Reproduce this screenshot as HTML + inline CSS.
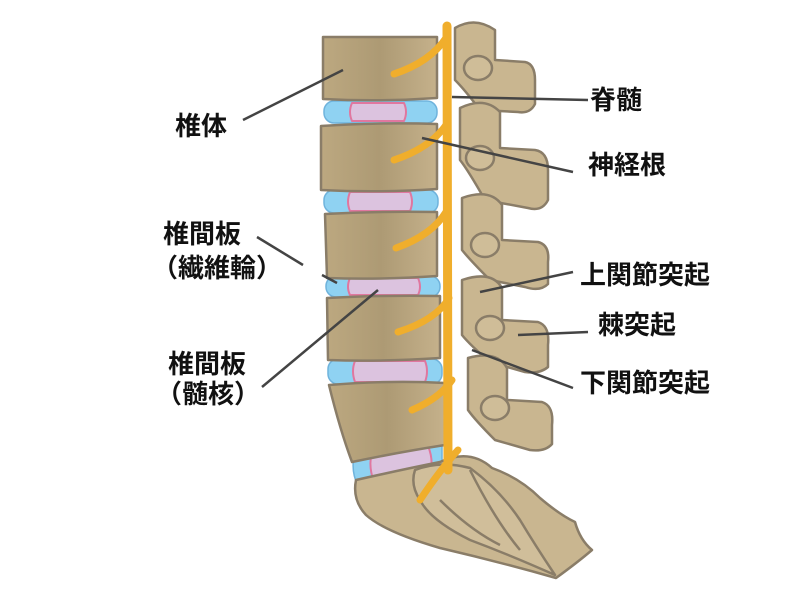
<!DOCTYPE html>
<html><head><meta charset="utf-8"><style>
html,body{margin:0;padding:0;background:#fff;}
svg{display:block;}
text{font-family:"Liberation Sans","Noto Sans CJK JP",sans-serif;font-weight:bold;font-size:26px;fill:#111;}
</style></head><body>
<svg width="800" height="600" viewBox="0 0 800 600" xmlns="http://www.w3.org/2000/svg">
<defs>
<linearGradient id="bone" x1="0" y1="0" x2="1" y2="0">
<stop offset="0" stop-color="#bca880"/><stop offset="0.5" stop-color="#ad9a74"/><stop offset="1" stop-color="#c5b18b"/>
</linearGradient>
</defs>
<g stroke="#8a7d68" stroke-width="2.5" stroke-linejoin="round">
<g fill="#c9b690">
<path d="M455 28 Q475 16 495 30 L495 60 L525 62 Q535 64 535 80 L535 104 Q530 114 518 112 L480 110 Q465 90 455 80 Z"/>
<path d="M460 108 Q485 96 500 112 L500 148 L535 150 Q548 152 548 170 L548 200 Q542 212 528 208 L485 200 Q468 170 460 160 Z"/>
<path d="M462 198 Q490 188 502 205 L502 240 L538 242 Q550 245 548 262 L548 284 Q540 292 525 287 L490 280 Q470 260 462 250 Z"/>
<path d="M462 280 Q492 270 502 288 L502 320 L538 322 Q550 326 548 345 L548 367 Q540 374 525 372 L490 362 Q470 345 462 335 Z"/>
<path d="M468 358 Q497 350 507 368 L507 400 L542 402 Q554 406 552 425 L552 444 Q545 452 530 450 L495 440 Q475 420 468 410 Z"/>
</g>
<g fill="#cfbd98">
<ellipse cx="478" cy="68" rx="14" ry="12"/>
<ellipse cx="480" cy="158" rx="14" ry="12"/>
<ellipse cx="485" cy="245" rx="14" ry="12"/>
<ellipse cx="490" cy="328" rx="14" ry="12"/>
<ellipse cx="495" cy="408" rx="14" ry="12"/>
</g>
<g fill="#8fd2f2" stroke="#6fb3dc" stroke-width="1.5">
<rect x="324" y="101" width="113" height="22" rx="10"/>
<rect x="324" y="190" width="114" height="23" rx="10"/>
<rect x="326" y="276" width="114" height="21" rx="10"/>
<rect x="328" y="359" width="114" height="25" rx="10"/>
<path d="M355 452 L442 440 L442 480 L358 486 Q350 470 355 452 Z"/>
</g>
<g fill="#dcc3df" stroke="#e0779f" stroke-width="2">
<path d="M352 103 Q348 112 352 121 L404 121 Q408 112 404 103 Z"/>
<path d="M350 192 Q346 202 350 211 L410 211 Q414 202 410 192 Z"/>
<path d="M350 278 Q346 287 350 295 L418 295 Q422 287 418 278 Z"/>
<path d="M355 361 Q351 371 355 382 L425 382 Q429 371 425 361 Z"/>
<path d="M372 452 Q368 466 374 482 L430 476 Q434 460 428 446 Z"/>
</g>
<g fill="url(#bone)">
<path d="M323 37 L437 37 L437 98 Q380 102 323 99 Z"/>
<path d="M321 126 Q380 122 437 124 L437 189 Q380 193 321 190 Z"/>
<path d="M325 214 Q380 211 437 212 L437 276 Q380 280 327 278 Z"/>
<path d="M327 298 Q380 295 440 296 L440 358 Q380 362 328 360 Z"/>
<path d="M329 385 Q390 380 445 383 L445 445 Q400 452 352 462 Q340 430 329 385 Z"/>
</g>
<path fill="#c9b690" d="M356 480 Q400 470 440 462 Q470 448 492 468 Q520 478 540 498 Q560 515 575 522 Q580 540 592 550 Q578 562 556 578 Q500 562 440 548 Q385 532 366 515 Q352 500 356 480 Z"/>
<path fill="#d0be9a" d="M415 470 Q440 460 470 468 Q500 490 520 520 Q535 545 555 575 Q510 555 470 540 Q430 520 420 500 Q410 485 415 470 Z"/>
<path fill="none" d="M470 470 Q495 520 520 550 M440 500 Q470 530 500 545"/>
</g>
<g fill="none" stroke="#f0ae2c" stroke-linecap="round">
<path d="M447 26 L448 470" stroke-width="9"/>
<path d="M446 38 Q430 62 394 74" stroke-width="7"/>
<path d="M446 125 Q430 148 394 160" stroke-width="7"/>
<path d="M446 212 Q432 235 396 248" stroke-width="7"/>
<path d="M449 298 Q436 320 398 332" stroke-width="7"/>
<path d="M452 380 Q440 398 412 410" stroke-width="7"/>
<path d="M458 450 Q440 470 420 500" stroke-width="7"/>
</g>
<g stroke="#444" stroke-width="2.5" fill="none">
<line x1="243" y1="120" x2="343" y2="70"/>
<line x1="452" y1="97" x2="588" y2="100"/>
<line x1="422" y1="138" x2="573" y2="172"/>
<line x1="257" y1="237" x2="303" y2="265"/>
<line x1="322" y1="275" x2="337" y2="283"/>
<line x1="262" y1="387" x2="378" y2="290"/>
<line x1="480" y1="292" x2="573" y2="272"/>
<line x1="518" y1="335" x2="588" y2="332"/>
<line x1="472" y1="350" x2="573" y2="388"/>
</g>
<text x="175" y="135">椎体</text>
<text x="163" y="243">椎間板</text>
<text x="152" y="277">（繊維輪）</text>
<text x="168" y="373">椎間板</text>
<text x="156" y="403">（髄核）</text>
<text x="590" y="109">脊髄</text>
<text x="588" y="174">神経根</text>
<text x="580" y="284">上関節突起</text>
<text x="598" y="334">棘突起</text>
<text x="580" y="392">下関節突起</text>
</svg>
</body></html>
